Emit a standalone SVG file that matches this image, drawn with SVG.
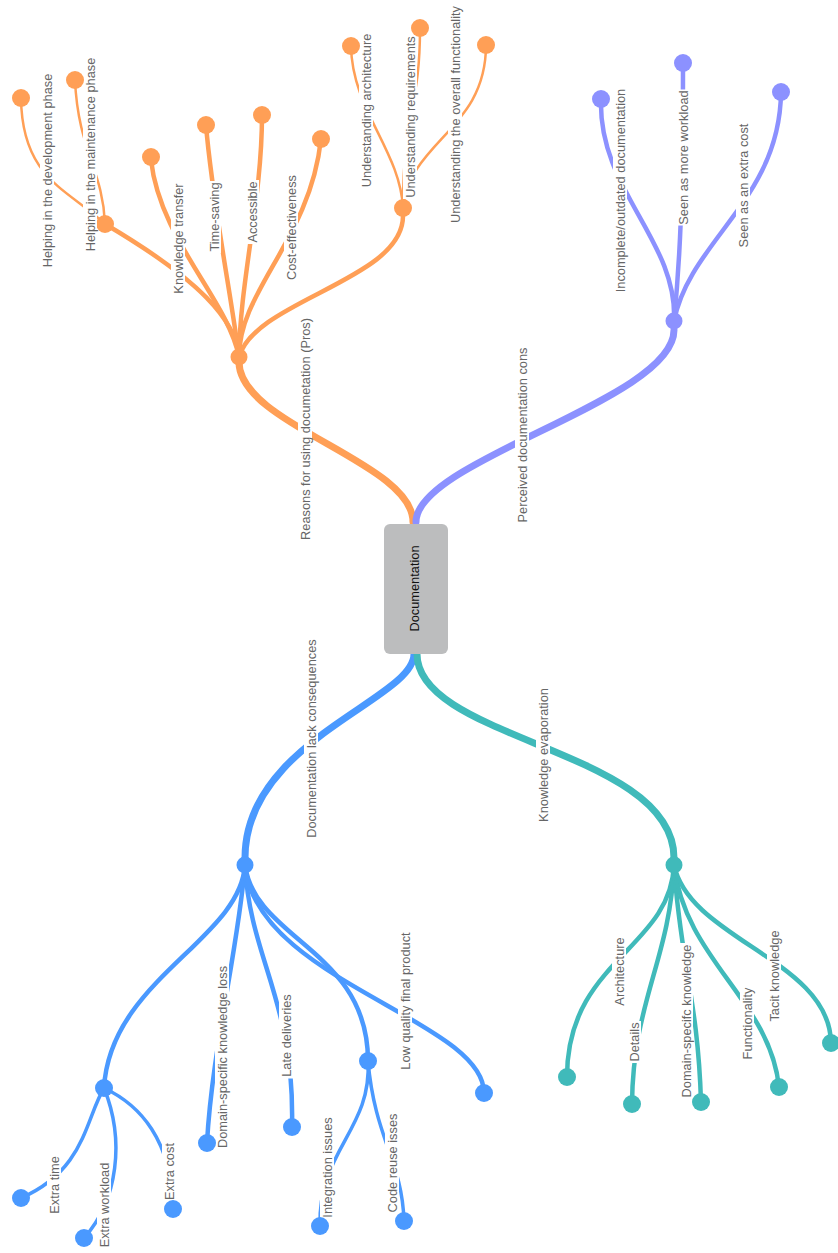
<svg xmlns="http://www.w3.org/2000/svg" width="838" height="1253" viewBox="0 0 838 1253">
<style>
.c{fill:none;stroke-linecap:round}
.o{stroke:#ff9f56}.p{stroke:#8c91ff}.b{stroke:#4a99ff}.t{stroke:#40baba}
.w1{stroke-width:7}.w2{stroke-width:4.5}.w3{stroke-width:3.5}.w4{stroke-width:2.5}
.fo{fill:#ff9f56}.fp{fill:#8c91ff}.fb{fill:#4a99ff}.ft{fill:#40baba}
.bg{fill:#ffffff}
.lbl{font-family:"Liberation Sans",Arial,sans-serif;font-size:12.8px;fill:#666666;text-anchor:middle}
</style>
<rect width="838" height="1253" fill="#ffffff"/>
<g id="connectors">
<path class="c o w1" d="M413,522 C413,462 239,425 239,362"/>
<path class="c p w1" d="M416,522 C416,460 674,400 674,330"/>
<path class="c b w1" d="M414,654 C414,700 245,740 245,858"/>
<path class="c t w1" d="M417,654 C417,740 674,750 674,858"/>
<path class="c o w2" d="M239,357 C236,320 200,280 105,224"/>
<path class="c o w2" d="M239,357 C228,300 160,240 151,160"/>
<path class="c o w2" d="M239,357 C232,300 212,200 206,125"/>
<path class="c o w2" d="M239,357 C240,280 262,200 262,115"/>
<path class="c o w2" d="M239,357 C239,290 310,240 321,139"/>
<path class="c o w2" d="M239,357 C255,300 403,280 403,216"/>
<path class="c o w4" d="M105,224 C70,190 22,180 21,98"/>
<path class="c o w4" d="M105,224 C103,170 78,150 75,80"/>
<path class="c o w4" d="M403,208 C400,150 352,110 351,46"/>
<path class="c o w4" d="M403,208 C403,110 420,110 420,28"/>
<path class="c o w4" d="M403,208 C410,140 486,130 486,45"/>
<path class="c p w2" d="M674,321 C678,240 598,190 601,99"/>
<path class="c p w2" d="M674,321 C680,260 683,200 683,63"/>
<path class="c p w2" d="M674,321 C690,240 780,200 781,92"/>
<path class="c b w2" d="M245,865 C240,940 110,980 104,1088"/>
<path class="c b w2" d="M245,865 C238,950 212,1050 207,1143"/>
<path class="c b w2" d="M245,865 C250,960 295,1000 292,1127"/>
<path class="c b w2" d="M245,865 C255,940 368,950 368,1061"/>
<path class="c b w2" d="M245,865 C255,980 484,1020 484,1093"/>
<path class="c b w3" d="M104,1088 C85,1120 85,1170 21,1198"/>
<path class="c b w3" d="M104,1088 C125,1140 118,1200 84,1238"/>
<path class="c b w3" d="M104,1088 C140,1105 172,1140 173,1209"/>
<path class="c b w3" d="M368,1061 C372,1130 318,1150 320,1226"/>
<path class="c b w3" d="M368,1061 C375,1140 402,1160 404,1221"/>
<path class="c t w2" d="M674,865 C670,950 567,960 567,1077"/>
<path class="c t w2" d="M674,865 C670,960 633,1000 632,1104"/>
<path class="c t w2" d="M674,865 C680,960 698,1000 701,1102"/>
<path class="c t w2" d="M674,865 C685,960 770,1000 779,1087"/>
<path class="c t w2" d="M674,865 C690,940 830,960 831,1043"/>
</g>
<g id="root">
<rect x="384" y="524" width="64" height="130" rx="6" fill="#bcbdbe"/>
<text transform="translate(414,588.5) rotate(-90)" y="4.5" class="lbl" style="fill:#111111">Documentation</text>
</g>
<g id="pros">
<g transform="translate(305,429) rotate(-90)"><rect class="bg" x="-112" y="-7" width="224" height="14"/><text class="lbl" y="4.5">Reasons for using documetation (Pros)</text></g>
<circle class="fo" cx="239" cy="357" r="8.5"/>
</g>
<g id="helping">
<circle class="fo" cx="105" cy="224" r="9"/>
</g>
<g id="helping-dev">
<g transform="translate(47,170.5) rotate(-90)"><rect class="bg" x="-98" y="-7" width="196" height="14"/><text class="lbl" y="4.5">Helping in the development phase</text></g>
<circle class="fo" cx="21" cy="98" r="9"/>
</g>
<g id="helping-maint">
<g transform="translate(90,154.5) rotate(-90)"><rect class="bg" x="-97" y="-7" width="194" height="14"/><text class="lbl" y="4.5">Helping in the maintenance phase</text></g>
<circle class="fo" cx="75" cy="80" r="9"/>
</g>
<g id="knowledge-transfer">
<g transform="translate(178,238.5) rotate(-90)"><rect class="bg" x="-56" y="-7" width="112" height="14"/><text class="lbl" y="4.5">Knowledge transfer</text></g>
<circle class="fo" cx="151" cy="157" r="9"/>
</g>
<g id="time-saving">
<g transform="translate(214,217) rotate(-90)"><rect class="bg" x="-36" y="-7" width="72" height="14"/><text class="lbl" y="4.5">Time-saving</text></g>
<circle class="fo" cx="206" cy="125" r="9"/>
</g>
<g id="accessible">
<g transform="translate(252,212) rotate(-90)"><rect class="bg" x="-32" y="-7" width="64" height="14"/><text class="lbl" y="4.5">Accessible</text></g>
<circle class="fo" cx="262" cy="115" r="9"/>
</g>
<g id="cost-effectiveness">
<g transform="translate(291,227.5) rotate(-90)"><rect class="bg" x="-54" y="-7" width="108" height="14"/><text class="lbl" y="4.5">Cost-effectiveness</text></g>
<circle class="fo" cx="321" cy="139" r="9"/>
</g>
<g id="understanding">
<circle class="fo" cx="403" cy="208" r="9"/>
</g>
<g id="und-arch">
<g transform="translate(366,110.5) rotate(-90)"><rect class="bg" x="-79" y="-7" width="158" height="14"/><text class="lbl" y="4.5">Understanding architecture</text></g>
<circle class="fo" cx="351" cy="46" r="9"/>
</g>
<g id="und-req">
<g transform="translate(410,117) rotate(-90)"><rect class="bg" x="-82" y="-7" width="164" height="14"/><text class="lbl" y="4.5">Understanding requirements</text></g>
<circle class="fo" cx="420" cy="28" r="9"/>
</g>
<g id="und-func">
<g transform="translate(455,114.5) rotate(-90)"><rect class="bg" x="-110" y="-7" width="220" height="14"/><text class="lbl" y="4.5">Understanding the overall functionality</text></g>
<circle class="fo" cx="486" cy="45" r="9"/>
</g>
<g id="cons">
<g transform="translate(522,435) rotate(-90)"><rect class="bg" x="-89" y="-7" width="178" height="14"/><text class="lbl" y="4.5">Perceived documentation cons</text></g>
<circle class="fp" cx="674" cy="321" r="8.5"/>
</g>
<g id="incomplete">
<g transform="translate(620,190.5) rotate(-90)"><rect class="bg" x="-104" y="-7" width="208" height="14"/><text class="lbl" y="4.5">Incomplete/outdated documentation</text></g>
<circle class="fp" cx="601" cy="99" r="9"/>
</g>
<g id="workload">
<g transform="translate(683,157.5) rotate(-90)"><rect class="bg" x="-68" y="-7" width="136" height="14"/><text class="lbl" y="4.5">Seen as more workload</text></g>
<circle class="fp" cx="683" cy="63" r="9"/>
</g>
<g id="extra-cost-cons">
<g transform="translate(743,185.5) rotate(-90)"><rect class="bg" x="-63" y="-7" width="126" height="14"/><text class="lbl" y="4.5">Seen as an extra cost</text></g>
<circle class="fp" cx="781" cy="92" r="9"/>
</g>
<g id="lack">
<g transform="translate(311,738.5) rotate(-90)"><rect class="bg" x="-100" y="-7" width="200" height="14"/><text class="lbl" y="4.5">Documentation lack consequences</text></g>
<circle class="fb" cx="245" cy="865" r="8.5"/>
</g>
<g id="extra">
<circle class="fb" cx="104" cy="1088" r="9"/>
</g>
<g id="extra-time">
<g transform="translate(54,1185) rotate(-90)"><rect class="bg" x="-30" y="-7" width="60" height="14"/><text class="lbl" y="4.5">Extra time</text></g>
<circle class="fb" cx="21" cy="1198" r="9"/>
</g>
<g id="extra-workload">
<g transform="translate(104,1205) rotate(-90)"><rect class="bg" x="-44" y="-7" width="88" height="14"/><text class="lbl" y="4.5">Extra workload</text></g>
<circle class="fb" cx="84" cy="1238" r="9"/>
</g>
<g id="extra-cost">
<g transform="translate(169,1171.5) rotate(-90)"><rect class="bg" x="-30" y="-7" width="60" height="14"/><text class="lbl" y="4.5">Extra cost</text></g>
<circle class="fb" cx="173" cy="1209" r="9"/>
</g>
<g id="domain-loss">
<g transform="translate(222,1057) rotate(-90)"><rect class="bg" x="-92" y="-7" width="184" height="14"/><text class="lbl" y="4.5">Domain-specific knowledge loss</text></g>
<circle class="fb" cx="207" cy="1143" r="9"/>
</g>
<g id="late">
<g transform="translate(286,1035.5) rotate(-90)"><rect class="bg" x="-43" y="-7" width="86" height="14"/><text class="lbl" y="4.5">Late deliveries</text></g>
<circle class="fb" cx="292" cy="1127" r="9"/>
</g>
<g id="reuse-node">
<circle class="fb" cx="368" cy="1061" r="9"/>
</g>
<g id="integration">
<g transform="translate(327,1167.5) rotate(-90)"><rect class="bg" x="-51" y="-7" width="102" height="14"/><text class="lbl" y="4.5">Integration issues</text></g>
<circle class="fb" cx="320" cy="1226" r="9"/>
</g>
<g id="code-reuse">
<g transform="translate(392,1163) rotate(-90)"><rect class="bg" x="-51" y="-7" width="102" height="14"/><text class="lbl" y="4.5">Code reuse isses</text></g>
<circle class="fb" cx="404" cy="1221" r="9"/>
</g>
<g id="low-quality">
<g transform="translate(405,1001) rotate(-90)"><rect class="bg" x="-70" y="-7" width="140" height="14"/><text class="lbl" y="4.5">Low quality final product</text></g>
<circle class="fb" cx="484" cy="1093" r="9"/>
</g>
<g id="evaporation">
<g transform="translate(543,755) rotate(-90)"><rect class="bg" x="-69" y="-7" width="138" height="14"/><text class="lbl" y="4.5">Knowledge evaporation</text></g>
<circle class="ft" cx="674" cy="865" r="8.5"/>
</g>
<g id="architecture">
<g transform="translate(619,971.5) rotate(-90)"><rect class="bg" x="-35" y="-7" width="70" height="14"/><text class="lbl" y="4.5">Architecture</text></g>
<circle class="ft" cx="567" cy="1077" r="9"/>
</g>
<g id="details">
<g transform="translate(634,1042) rotate(-90)"><rect class="bg" x="-21" y="-7" width="42" height="14"/><text class="lbl" y="4.5">Details</text></g>
<circle class="ft" cx="632" cy="1104" r="9"/>
</g>
<g id="domain-knowledge">
<g transform="translate(686,1021) rotate(-90)"><rect class="bg" x="-78" y="-7" width="156" height="14"/><text class="lbl" y="4.5">Domain-specifc knowledge</text></g>
<circle class="ft" cx="701" cy="1102" r="9"/>
</g>
<g id="functionality">
<g transform="translate(747,1023.5) rotate(-90)"><rect class="bg" x="-37" y="-7" width="74" height="14"/><text class="lbl" y="4.5">Functionality</text></g>
<circle class="ft" cx="779" cy="1087" r="9"/>
</g>
<g id="tacit">
<g transform="translate(774,976) rotate(-90)"><rect class="bg" x="-47" y="-7" width="94" height="14"/><text class="lbl" y="4.5">Tacit knowledge</text></g>
<circle class="ft" cx="831" cy="1043" r="9"/>
</g>
</svg>
